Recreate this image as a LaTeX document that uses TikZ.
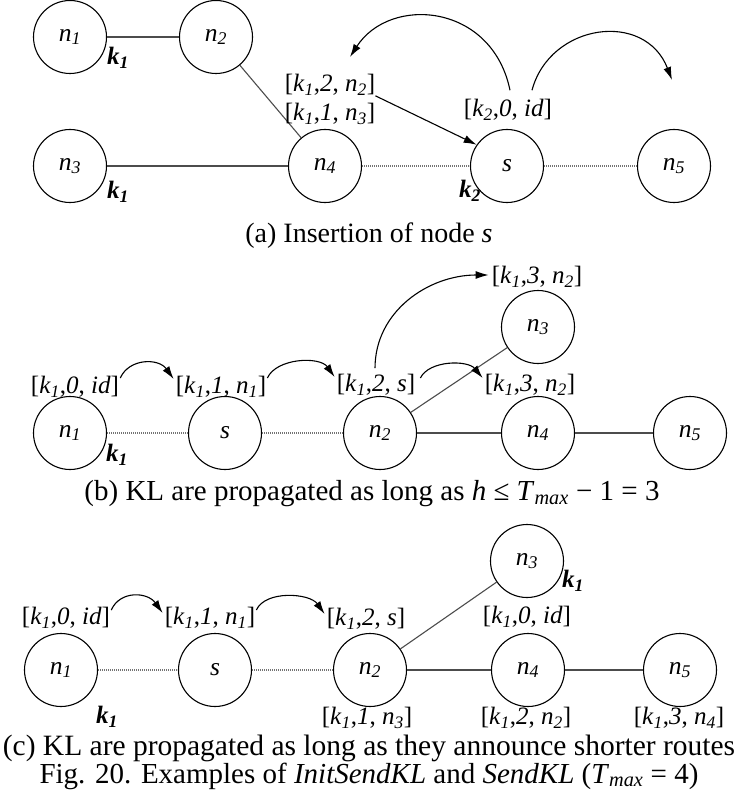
\documentclass[tikz,border=0pt]{standalone}
\usepackage{fontspec}
\setmainfont{Liberation Serif}
\usetikzlibrary{arrows.meta}
\newcommand\ssub[1]{\textsubscript{\itshape #1}}
\newcommand\nn[1]{\textit{n}\ssub{#1}}
\newcommand\kk[1]{\textit{k}\ssub{#1}}
\newcommand\kb[1]{\textbf{\textit{k}\textsubscript{\bfseries\itshape #1}}}
\tikzset{
 nd/.style={circle, draw, line width=1.1pt, minimum size=73pt, inner sep=0pt, font=\fontsize{25.5}{30}\selectfont},
 lab/.style={inner sep=0pt, font=\fontsize{25}{30}\selectfont},
 captxt/.style={inner sep=0pt, font=\fontsize{#1}{32}\selectfont},
 captxt/.default=29,
 sol/.style={line width=1.1pt, black!70},
 dotl/.style={line width=1.1pt, black!55, dash pattern=on 1pt off 1pt},
 arr/.style={line width=1.1pt, -{Latex[length=13pt,width=8pt]}},
}
\begin{document}
\begin{tikzpicture}[x=1pt,y=-1pt]
\useasboundingbox (0,0) rectangle (738,805);
% ---------- (a)
\node[nd] (a1) at (70,37) {\nn{1}};
\node[nd] (a2) at (216,37) {\nn{2}};
\node[nd] (a3) at (70,166) {\nn{3}};
\node[nd] (a4) at (325,166) {\nn{4}};
\node[nd] (as) at (507,166) {\textit{s}};
\node[nd] (a5) at (674,166) {\nn{5}};
\draw[sol] (a1) -- (a2);
\draw[sol] (a2) -- (a4);
\draw[sol] (a3) -- (a4);
\draw[dotl] (a4) -- (as);
\draw[dotl] (as) -- (a5);
\node[lab] (ka1) at (118,58) {\kb{1}};
\node[lab] (ka3) at (118,192) {\kb{1}};
\node[lab] (kas) at (470,191) {\kb{2}};
\node[lab] (la1) at (330,85) {[\kk{1},\textit{2}, \nn{2}]};
\node[lab] (la2) at (330,114) {[\kk{1},\textit{1}, \nn{3}]};
\node[lab] (la3) at (508,110) {[\kk{2},\textit{0}, \textit{id}]};
\draw[arr] (la1.south east) -- (as.145);
\coordinate (ta1) at (350,57);
\coordinate (ta2) at (672,80);
\draw[arr] ([shift={(2,-9)}]la3.north) .. controls +(-18,-87) and +(40,-62) .. (ta1);
\draw[arr] ([shift={(24,-9)}]la3.north) .. controls +(18,-67) and +(-27,-70) .. (ta2);
\node[captxt=28] (capa) at (369,236) {(a) Insertion of node \textit{s}};
% ---------- (b)
\node[nd] (b1) at (70,433) {\nn{1}};
\node[nd] (bs) at (225,433) {\textit{s}};
\node[nd] (b2) at (380,433) {\nn{2}};
\node[nd] (b4) at (538,433) {\nn{4}};
\node[nd] (b5) at (690,433) {\nn{5}};
\node[nd] (b3) at (538,327) {\nn{3}};
\draw[dotl] (b1) -- (bs);
\draw[dotl] (bs) -- (b2);
\draw[sol] (b2) -- (b4);
\draw[sol] (b4) -- (b5);
\draw[sol] (b2) -- (b3);
\node[lab] (kb1) at (117,455) {\kb{1}};
\node[lab] (lb1) at (75,387) {[\kk{1},\textit{0}, \textit{id}]};
\node[lab] (lb2) at (221,387) {[\kk{1},\textit{1}, \nn{1}]};
\node[lab] (lb3) at (376,385) {[\kk{1},\textit{2}, \textit{s}]};
\node[lab] (lb4) at (530,385) {[\kk{1},\textit{3}, \nn{2}]};
\node[lab] (lb5) at (537,277) {[\kk{1},\textit{3}, \nn{2}]};
\draw[arr] ([shift={(1,-9)}]lb1.east) .. controls +(9,-20) and +(-15,-21) .. ([shift={(-2,-8)}]lb2.west);
\draw[arr] ([shift={(1,-9)}]lb2.east) .. controls +(9,-20) and +(-15,-21) .. ([shift={(-2,-8)}]lb3.west);
\draw[arr] ([shift={(5,-7)}]lb3.east) .. controls +(9,-18) and +(-15,-18) .. ([shift={(-2,-7)}]lb4.west);
\draw[arr] ([shift={(-1,-6)}]lb3.north) .. controls +(0,-57) and +(-60,0) .. ([shift={(-3,-2)}]lb5.west);
\node[captxt=29] (capb) at (372,494) {(b) KL are propagated as long as \textit{h} ≤ \textit{T}\ssub{max} − 1 = 3};
% ---------- (c)
\node[nd] (c1) at (61,670) {\nn{1}};
\node[nd] (cs) at (215,670) {\textit{s}};
\node[nd] (c2) at (370,670) {\nn{2}};
\node[nd] (c4) at (528,670) {\nn{4}};
\node[nd] (c5) at (680,670) {\nn{5}};
\node[nd] (c3) at (527,561) {\nn{3}};
\draw[dotl] (c1) -- (cs);
\draw[dotl] (cs) -- (c2);
\draw[sol] (c2) -- (c4);
\draw[sol] (c4) -- (c5);
\draw[sol] (c2) -- (c3);
\node[lab] (kc1) at (107,717) {\kb{1}};
\node[lab] (kc3) at (573,581) {\kb{1}};
\node[lab] (lc1) at (66,618) {[\kk{1},\textit{0}, \textit{id}]};
\node[lab] (lc2) at (210,618) {[\kk{1},\textit{1}, \nn{1}]};
\node[lab] (lc3) at (366,619) {[\kk{1},\textit{2}, \textit{s}]};
\node[lab] (lc0) at (527,617) {[\kk{1},\textit{0}, \textit{id}]};
\node[lab] (ld2) at (367,718) {[\kk{1},\textit{1}, \nn{3}]};
\node[lab] (ld4) at (526,718) {[\kk{1},\textit{2}, \nn{2}]};
\node[lab] (ld5) at (679,718) {[\kk{1},\textit{3}, \nn{4}]};
\draw[arr] ([shift={(1,-8)}]lc1.east) .. controls +(9,-20) and +(-15,-21) .. ([shift={(-2,-5)}]lc2.west);
\draw[arr] ([shift={(1,-8)}]lc2.east) .. controls +(9,-20) and +(-15,-21) .. ([shift={(-2,-5)}]lc3.west);
\node[captxt=29.5] (capc) at (369,748) {(c) KL are propagated as long as they announce shorter routes};
\node[captxt=29] (capf) at (369,776) {Fig. 20. Examples of \textit{InitSendKL} and \textit{SendKL} (\textit{T}\ssub{max} = 4)};
\end{tikzpicture}
\end{document}
